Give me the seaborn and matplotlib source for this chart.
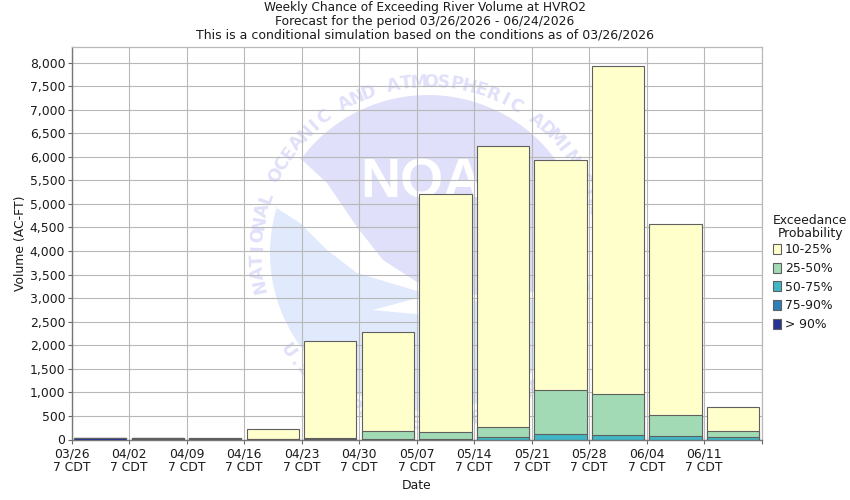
import numpy as np
import pandas as pd
import matplotlib
matplotlib.use("Agg")
import matplotlib.pyplot as plt
from matplotlib.patches import Polygon
from matplotlib.ticker import FuncFormatter
import seaborn as sns

# values, top of each band in AC-FT
dates = ["03/26", "04/02", "04/09", "04/16", "04/23", "04/30",
         "05/07", "05/14", "05/21", "05/28", "06/04", "06/11"]
bands = ["10-25%", "25-50%", "50-75%", "75-90%", "> 90%"]
colors = ["#ffffcc", "#a1dab4", "#41b6c4", "#2c7fb8", "#253494"]
p10_25 = [30, 30, 30, 230, 2080, 2290, 5200, 6230, 5940, 7920, 4580, 680]
p25_50 = [28, 28, 28, 20, 40, 170, 150, 270, 1060, 975, 530, 190]
p50_75 = [26, 26, 16, 10, 15, 20, 20, 50, 110, 85, 65, 45]
p75_90 = [24, 22, 8, 0, 0, 0, 0, 0, 0, 0, 0, 0]
p90 = [22, 18, 4, 0, 0, 0, 0, 0, 0, 0, 0, 0]

df = pd.DataFrame({
    "date": dates * 5,
    "band": [b for b in bands for _ in dates],
    "volume": p10_25 + p25_50 + p50_75 + p75_90 + p90,
})

sns.set_style("white")
plt.rcParams["font.family"] = ["DejaVu Sans"]
fs = 8.95
text_col = "#1a1a1a"

fig = plt.figure(figsize=(8.5, 5), dpi=100)

# NOAA watermark, in pixel coordinates of the picture
bg = fig.add_axes([0, 0, 1, 1], zorder=0)
bg.set_xlim(0, 850)
bg.set_ylim(500, 0)
bg.axis("off")
lav = "#e0e0fa"
light = "#e0eafc"
cx, cy, r = 428, 253, 158


def arc(a0, a1):
    t = np.radians(np.linspace(a0, a1, 80))
    return np.column_stack([cx + r * np.cos(t), cy - r * np.sin(t)])


top_edge = [(586, 253), (560, 285), (500, 300), (417, 282), (383, 260),
            (357, 227), (327, 183), (300, 158)]
bg.add_patch(Polygon(np.vstack([arc(143, 0), top_edge]), color=lav, lw=0))
low_edge = [(590, 290), (500, 305), (417, 291), (357, 273), (327, 250),
            (300, 223), (275, 207)]
bg.add_patch(Polygon(np.vstack([arc(163, 355), low_edge]), color=light, lw=0))
bg.add_patch(Polygon([(373, 310), (425, 296), (425, 315)], color="white", lw=0))
bg.text(360, 197, "NOAA", color="white", fontsize=40, fontweight="bold",
        family="Liberation Sans", ha="left", va="baseline")


def ring(word, start, step, bottom=False):
    for i, ch in enumerate(word):
        a = start + i * step
        x = cx + 171 * np.cos(np.radians(a))
        y = cy - 171 * np.sin(np.radians(a))
        rot = a + 90 if bottom else a - 90
        bg.text(x, y, ch, color=lav, fontsize=12.5, fontweight="bold",
                rotation=rot, ha="center", va="center")


ring("NATIONAL OCEANIC AND ATMOSPHERIC ADMINISTRATION", 191, -4.25)
ring("U.S. DEPARTMENT OF COMMERCE", 215, 4.2, bottom=True)

# main chart
ax = fig.add_axes([71.5 / 850, 60.5 / 500, 690.2 / 850, 392.5 / 500], zorder=1)
ax.patch.set_alpha(0)
sns.barplot(data=df, x="date", y="volume", hue="band", hue_order=bands,
            palette=colors, dodge=False, width=0.91, saturation=1,
            edgecolor="#5f5f5f", linewidth=0.8, ax=ax, zorder=3)

ax.set_xlim(-0.5, 11.5)
ax.set_ylim(0, 8329)
ax.set_yticks(range(0, 8001, 500))
ax.yaxis.set_major_formatter(FuncFormatter(lambda v, p: f"{int(v):,}"))
ax.set_xticks(np.arange(13) - 0.5)
ax.set_xticklabels([d + "\n7 CDT" for d in dates] + [""], linespacing=1.08)
ax.grid(True, color="#b8b8b8", lw=0.8)
ax.set_axisbelow(True)
ax.tick_params(axis="both", length=3, width=0.8, color="#666666",
               labelsize=fs, labelcolor=text_col, bottom=True, left=True, pad=1.5)
ax.tick_params(axis="x", pad=2.5)
ax.set_xlabel("Date", fontsize=fs, color=text_col, labelpad=4)
ax.set_ylabel("Volume (AC-FT)", fontsize=fs, color=text_col, labelpad=2)
for side in ["top", "right"]:
    ax.spines[side].set_color("#b8b8b8")
    ax.spines[side].set_linewidth(0.9)
for side in ["left", "bottom"]:
    ax.spines[side].set_color("#777777")
    ax.spines[side].set_linewidth(1.0)

leg = ax.legend(title="Exceedance\nProbability", loc="upper left",
                bbox_to_anchor=(773 / 850, 1 - 214 / 500),
                bbox_transform=fig.transFigure, frameon=False, fontsize=fs,
                title_fontsize=fs, handlelength=0.62, handleheight=0.85,
                handletextpad=0.35, labelspacing=0.46, borderpad=0,
                borderaxespad=0, alignment="left")
leg.get_title().set_multialignment("center")
leg.get_title().set_linespacing(1.05)
leg.get_title().set_color(text_col)
leg._legend_box.sep = 2
for t in leg.get_texts():
    t.set_color(text_col)

fig.text(425 / 850, 1 - 7 / 500,
         "Weekly Chance of Exceeding River Volume at HVRO2", ha="center",
         va="center", color=text_col, fontsize=8.75)
fig.text(425 / 850, 1 - 21 / 500, "Forecast for the period 03/26/2026 - 06/24/2026",
         ha="center", va="center", color=text_col, fontsize=fs)
fig.text(425 / 850, 1 - 35 / 500,
         "This is a conditional simulation based on the conditions as of 03/26/2026",
         ha="center", va="center", color=text_col, fontsize=9.02)

fig.savefig("out.png", dpi=100)
